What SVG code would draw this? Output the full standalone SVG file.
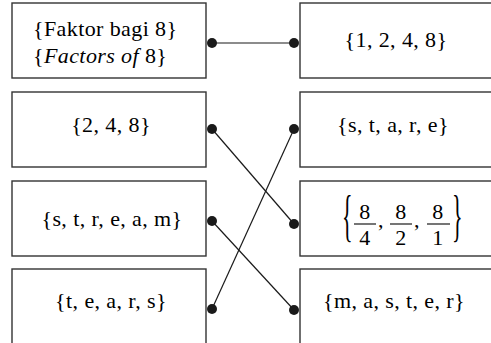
<svg xmlns="http://www.w3.org/2000/svg" width="491" height="343" viewBox="0 0 491 343">
<style>
.box{fill:#fff;stroke:#333;stroke-width:1.4}
.lbl{font-family:"Liberation Serif",serif;font-size:22px;letter-spacing:0.4px}
.mid{text-anchor:middle}
.ln{stroke:#1a1a1a;stroke-width:1.2;fill:none}
.dot{fill:#1a1a1a}
</style>
<rect width="491" height="343" fill="#fff"/>
<g id="connectors">
<line class="ln" x1="212" y1="43" x2="294" y2="43"/>
<line class="ln" x1="212" y1="129" x2="294" y2="224"/>
<line class="ln" x1="294" y1="129" x2="212" y2="309"/>
<line class="ln" x1="212" y1="221" x2="294" y2="310"/>
<circle class="dot" cx="212" cy="43" r="5"/>
<circle class="dot" cx="294" cy="43" r="5"/>
<circle class="dot" cx="212" cy="129" r="5"/>
<circle class="dot" cx="294" cy="129" r="5"/>
<circle class="dot" cx="212" cy="221" r="5"/>
<circle class="dot" cx="294" cy="224" r="5"/>
<circle class="dot" cx="212" cy="309" r="5"/>
<circle class="dot" cx="294" cy="310" r="5"/>
</g>
<g id="L1">
<rect class="box" x="12" y="3" width="194" height="75"/>
<text class="lbl" x="33" y="36" font-family="Liberation Serif, serif">{Faktor bagi 8}</text>
<text class="lbl" x="33" y="63" font-family="Liberation Serif, serif">{<tspan font-style="italic">Factors of</tspan> 8}</text>
</g>
<g id="L2">
<rect class="box" x="12" y="92" width="194" height="75"/>
<text class="lbl mid" x="111" y="132" font-family="Liberation Serif, serif">{2, 4, 8}</text>
</g>
<g id="L3">
<rect class="box" x="12" y="181" width="194" height="75"/>
<text class="lbl mid" x="112" y="226" font-family="Liberation Serif, serif">{s, t, r, e, a, m}</text>
</g>
<g id="L4">
<rect class="box" x="12" y="269" width="194" height="90"/>
<text class="lbl mid" x="111" y="308" font-family="Liberation Serif, serif">{t, e, a, r, s}</text>
</g>
<g id="R1">
<rect class="box" x="300" y="3" width="200" height="75"/>
<text class="lbl mid" x="396" y="47" font-family="Liberation Serif, serif">{1, 2, 4, 8}</text>
</g>
<g id="R2">
<rect class="box" x="300" y="92" width="200" height="75"/>
<text class="lbl mid" x="393" y="132" font-family="Liberation Serif, serif">{s, t, a, r, e}</text>
</g>
<g id="R3">
<rect class="box" x="300" y="181" width="200" height="75"/>
<text class="lbl" transform="translate(342,235) scale(1,2.6)" font-family="Liberation Serif, serif">{</text>
<text class="lbl" transform="translate(452,235) scale(1,2.6)" font-family="Liberation Serif, serif">}</text>
<text class="lbl mid" x="365" y="219" font-family="Liberation Serif, serif">8</text>
<text class="lbl mid" x="365" y="245" font-family="Liberation Serif, serif">4</text>
<line class="ln" x1="354" y1="224" x2="376" y2="224"/>
<text class="lbl" x="378" y="227" font-family="Liberation Serif, serif">,</text>
<text class="lbl mid" x="401" y="219" font-family="Liberation Serif, serif">8</text>
<text class="lbl mid" x="401" y="245" font-family="Liberation Serif, serif">2</text>
<line class="ln" x1="390" y1="224" x2="412" y2="224"/>
<text class="lbl" x="414" y="227" font-family="Liberation Serif, serif">,</text>
<text class="lbl mid" x="438" y="219" font-family="Liberation Serif, serif">8</text>
<text class="lbl mid" x="438" y="245" font-family="Liberation Serif, serif">1</text>
<line class="ln" x1="427" y1="224" x2="450" y2="224"/>
</g>
<g id="R4">
<rect class="box" x="300" y="269" width="200" height="90"/>
<text class="lbl mid" x="394" y="308" font-family="Liberation Serif, serif">{m, a, s, t, e, r}</text>
</g>
</svg>
